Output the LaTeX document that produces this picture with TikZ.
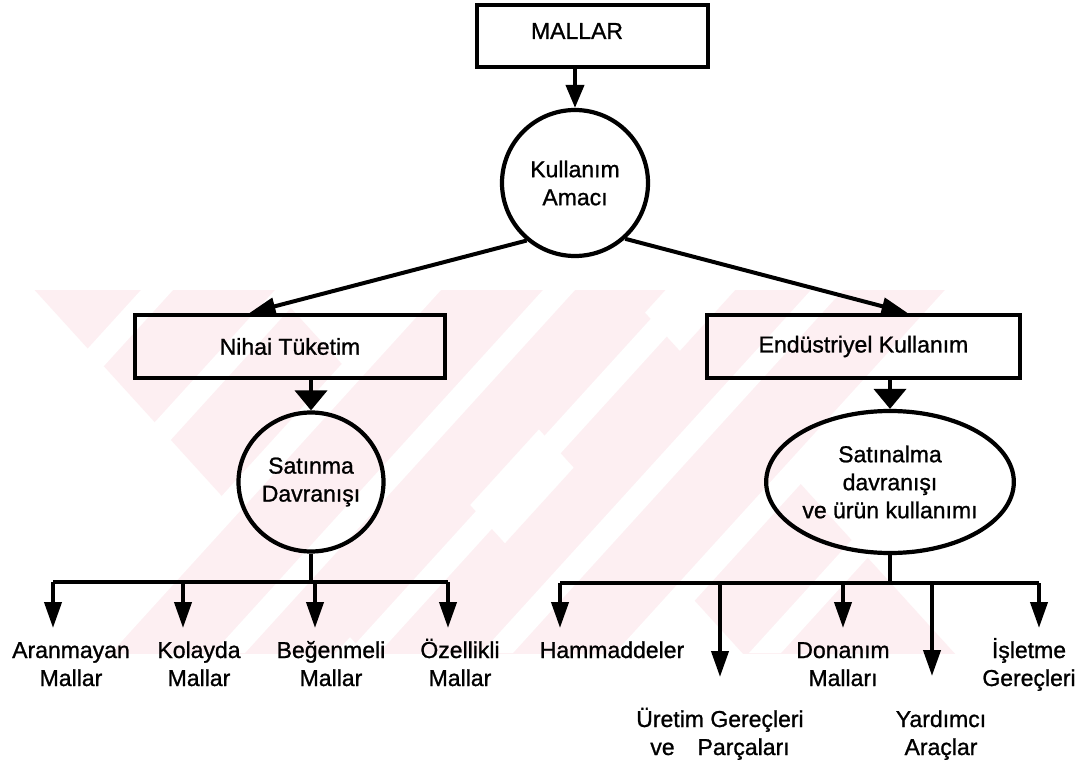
\documentclass[tikz,border=0pt]{standalone}
\usepackage{fontspec}
\setmainfont{Liberation Sans}[FakeBold=1]
\usetikzlibrary{arrows.meta,shapes.geometric,calc}
\definecolor{wmpink}{RGB}{253,239,242}
\begin{document}
\begin{tikzpicture}[x=0.5pt,y=-0.5pt,
  every node/.style={font=\fontsize{11.5}{14}\selectfont},
  box/.style={draw,line width=2.1pt,rectangle,inner sep=0pt},
  bubble/.style={draw,line width=2.1pt,ellipse,inner sep=0pt,align=center},
  leaf/.style={align=center,anchor=base,inner sep=0pt},
  wire/.style={line width=2pt},
  arr/.style={wire,-{Triangle[length=13pt,width=8.5pt]}},
  warr/.style={wire,-{Triangle[length=10pt,width=16pt]}},
  stripe/.style={fill=white}
]
\useasboundingbox (0,0) rectangle (1083,760);
\fill[white] (0,0) rectangle (1083,760);

% faint background emblem: two crossed band pairs with white hatching
\begin{scope}
  \clip (0,290) rectangle (1083,653);
  \fill[wmpink] (-1.8,250) -- (238.2,250) -- (647.3,700) -- (407.3,700) -- cycle;
  \fill[wmpink] (461.8,250) -- (701.8,250) -- (292.7,700) -- (52.7,700) -- cycle;
  \fill[wmpink] (376,250) -- (588,250) -- (997,700) -- (785,700) -- cycle;
  \fill[wmpink] (771.7,250) -- (983.7,250) -- (574.6,700) -- (362.6,700) -- cycle;
  \foreach \k in {-3,...,4} {
    \pgfmathsetmacro{\xa}{543+134*\k}
    \fill[stripe] (\xa,290) -- (\xa+32,290) -- (\xa+32-330,653) -- (\xa-330,653) -- cycle;
  }
\end{scope}

% top level
\node[box,minimum width=115.5pt,minimum height=31pt] (mallar) at (592.5,36) {};
\node[inner sep=0pt] (mallarT) at (577,31) {MALLAR};
\node[bubble,minimum width=73pt,minimum height=73pt] (amac) at (575,183) {Kullanım\\Amacı};

% second level
\node[box,minimum width=155pt,minimum height=31.5pt] (nihai) at (290,346.5) {Nihai Tüketim};
\node[box,minimum width=156.5pt,minimum height=31.5pt] (endus) at (863.5,346.5) {Endüstriyel Kullanım};

\node[bubble,minimum width=72.5pt,minimum height=69.5pt] (satin) at (311,482) {Satınma\\Davranışı};
\node[bubble,minimum width=111pt,minimum height=71pt] (satal) at (890,482) {Satınalma\\davranışı\\ve ürün kullanımı};

\draw[wire,-{Triangle[length=11.5pt,width=9pt]}] (mallar.south -| amac.north) -- (amac.north);
\draw[arr] (amac.230) -- ($(nihai.north west)!0.371!(nihai.north east)$);
\draw[arr] (amac.312) -- ($(endus.north west)!0.639!(endus.north east)$);
\draw[warr] (nihai.south -| satin.north) -- (satin.north);
\draw[warr] (endus.south -| satal.north) -- (satal.north);

% consumer goods branch
\coordinate (lj) at (311,582);
\coordinate (l1) at (53,628);
\coordinate (l2) at (183,628);
\coordinate (l3) at (315,628);
\coordinate (l4) at (448,628);
\draw[wire] (satin.south) -- (lj);
\draw[wire] (l1 |- lj) -- (l4 |- lj);
\foreach \p in {l1,l2,l3,l4} \draw[arr] (\p |- lj) -- (\p);

\node[leaf] (aran) at (71,686) {Aranmayan\\Mallar};
\node[leaf] (kolay) at (199,686) {Kolayda\\Mallar};
\node[leaf] (begen) at (331,686) {Beğenmeli\\Mallar};
\node[leaf] (ozel) at (460,686) {Özellikli\\Mallar};

% industrial goods branch
\coordinate (rj) at (890,583);
\coordinate (r1) at (560,628);
\coordinate (r2) at (720,677);
\coordinate (r3) at (843,628);
\coordinate (r4) at (932,676);
\coordinate (r5) at (1039,628);
\draw[wire] (satal.south) -- (rj);
\draw[wire] (r1 |- rj) -- (r5 |- rj);
\foreach \p in {r1,r2,r3,r4,r5} \draw[arr] (\p |- rj) -- (\p);

\node[leaf] (hamm) at (612,658) {Hammaddeler};
\node[leaf] (donan) at (843,686) {Donanım\\Malları};
\node[leaf] (islet) at (1029,686) {İşletme\\Gereçleri};
\node[leaf] (uret) at (720,755) {Üretim Gereçleri\\ve\hspace{1em}Parçaları};
\node[leaf] (yard) at (941,755) {Yardımcı\\Araçlar};
\end{tikzpicture}
\end{document}
